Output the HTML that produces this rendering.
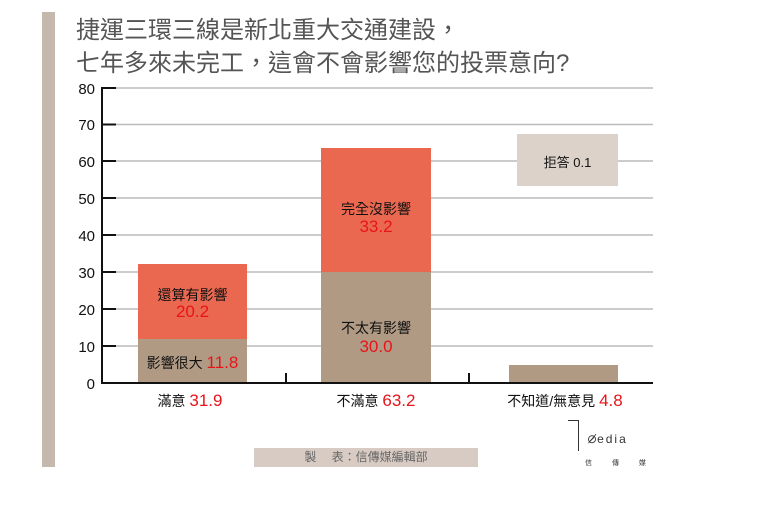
<!DOCTYPE html><html><head><meta charset="utf-8"><style>
body{margin:0;width:768px;height:511px;background:#fff;overflow:hidden;position:relative;font-family:"Liberation Sans","Noto Sans CJK TC",sans-serif}
.a{position:absolute}
.t{font-size:14px;color:#111;text-align:center}
.r{color:#e8141a}
</style></head><body>
<div class="a" style="left:42px;top:12px;width:13px;height:455px;background:#c5b9ae"></div>
<div class="a" style="left:76px;top:14px;font-size:24px;color:#555;line-height:33px;letter-spacing:0px">捷運三環三線是新北重大交通建設，<br>七年多來未完工，這會不會影響您的投票意向?</div>
<svg class="a" style="left:0;top:0" width="768" height="511">
<g stroke="#bbb" stroke-width="1.5">
<line x1="102" y1="88" x2="653" y2="88"/><line x1="102" y1="124.5" x2="653" y2="124.5"/><line x1="102" y1="161" x2="653" y2="161"/><line x1="102" y1="198" x2="653" y2="198"/><line x1="102" y1="235" x2="653" y2="235"/><line x1="102" y1="272" x2="653" y2="272"/><line x1="102" y1="309" x2="653" y2="309"/><line x1="102" y1="346" x2="653" y2="346"/>
</g>
<rect x="138" y="264" width="109" height="75" fill="#ea6850"/>
<rect x="138" y="339" width="109" height="44" fill="#b09a83"/>
<rect x="321" y="148" width="110" height="124" fill="#ea6850"/>
<rect x="321" y="272" width="110" height="111" fill="#b09a83"/>
<rect x="509" y="365" width="109" height="18" fill="#b09a83"/>
<rect x="517" y="134" width="101" height="52" fill="#dcd2c9"/>
<g stroke="#111" stroke-width="2">
<line x1="102" y1="87" x2="102" y2="384"/><line x1="101" y1="383" x2="653" y2="383"/>
<line x1="102" y1="88" x2="116" y2="88"/><line x1="102" y1="124.5" x2="116" y2="124.5"/><line x1="102" y1="161" x2="116" y2="161"/><line x1="102" y1="198" x2="116" y2="198"/><line x1="102" y1="235" x2="116" y2="235"/><line x1="102" y1="272" x2="116" y2="272"/><line x1="102" y1="309" x2="116" y2="309"/><line x1="102" y1="346" x2="116" y2="346"/>
<line x1="286" y1="373" x2="286" y2="383"/><line x1="469" y1="373" x2="469" y2="383"/>
</g>
<g font-size="15" fill="#111" text-anchor="end" font-family="Liberation Sans">
<text x="95" y="94">80</text><text x="95" y="130">70</text><text x="95" y="167">60</text><text x="95" y="204">50</text><text x="95" y="241">40</text><text x="95" y="278">30</text><text x="95" y="315">20</text><text x="95" y="352">10</text><text x="95" y="389">0</text>
</g>
</svg>
<div class="a t" style="left:138px;width:109px;top:285px">還算有影響</div>
<div class="a t r" style="left:138px;width:109px;top:302px;font-size:17px">20.2</div>
<div class="a t" style="left:138px;width:109px;top:353px">影響很大 <span class="r" style="font-size:17px">11.8</span></div>
<div class="a t" style="left:321px;width:110px;top:199px">完全沒影響</div>
<div class="a t r" style="left:321px;width:110px;top:217px;font-size:17px">33.2</div>
<div class="a t" style="left:321px;width:110px;top:318px">不太有影響</div>
<div class="a t r" style="left:321px;width:110px;top:337px;font-size:17px">30.0</div>
<div class="a t" style="left:517px;width:101px;top:152px;font-size:13px">拒答 0.1</div>
<div class="a t" style="left:110px;width:160px;top:391px">滿意 <span class="r" style="font-size:17px">31.9</span></div>
<div class="a t" style="left:296px;width:160px;top:391px">不滿意 <span class="r" style="font-size:17px">63.2</span></div>
<div class="a t" style="left:480px;width:170px;top:391px">不知道/無意見 <span class="r" style="font-size:17px">4.8</span></div>
<div class="a" style="left:254px;top:448px;width:224px;height:19px;background:#d8cbc3;color:#666;font-size:12px;line-height:19px;text-align:center">製　 表：信傳媒編輯部</div>
<div class="a" style="left:568px;top:420px;width:10px;height:30px;border-top:1px solid #333;border-right:1px solid #333"></div>
<div class="a" style="left:587px;top:432px;font-size:12px;color:#333">⊘̸<span style="letter-spacing:2px">edia</span></div>
<div class="a" style="left:585px;top:458px;font-size:7px;color:#333;letter-spacing:20px">信傳媒</div>
</body></html>
